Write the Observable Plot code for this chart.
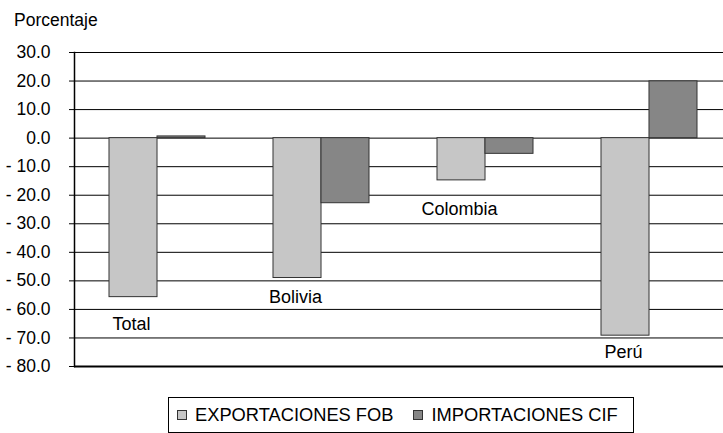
<!DOCTYPE html>
<html><head><meta charset="utf-8">
<script src="https://cdn.jsdelivr.net/npm/d3@7"></script>
<script src="https://cdn.jsdelivr.net/npm/@observablehq/plot@0.6"></script>
<style>
body{margin:0;background:#fff;font-family:"Liberation Sans",Arial,sans-serif;color:#000;}
#wrap{width:723px;height:433px;position:relative;overflow:hidden;background:#fff;}
#title{height:34px;font-size:17.5px;line-height:16px;padding-left:14px;padding-top:12px;box-sizing:border-box;}
#chart svg{display:block;}
#legend{position:absolute;left:168px;top:397px;width:466px;height:36px;border:1px solid #000;box-sizing:border-box;display:flex;align-items:center;font-size:18.3px;}
.item{display:flex;align-items:center;}
.sw{width:10px;height:10px;border:1px solid #333;box-sizing:border-box;margin-right:8px;}
</style></head>
<body>
<div id="wrap">
  <div id="title">Porcentaje</div>
  <div id="chart"></div>
  <div id="legend"></div>
</div>
<script>
const categories = ["Total", "Bolivia", "Colombia", "Perú"];
const exportaciones = [-55.7, -49.0, -14.8, -69.2];
const importaciones = [0.6, -22.8, -5.5, 19.9];
const seriesNames = ["EXPORTACIONES FOB", "IMPORTACIONES CIF"];
const seriesColors = ["#c6c6c6", "#868686"];
const yTicks = [30, 20, 10, 0, -10, -20, -30, -40, -50, -60, -70, -80];
const labelY = [-65.3, -55.8, -25.0, -75.1];

const rows = [];
categories.forEach((c, i) => {
  rows.push({cat: c, series: seriesNames[0], value: exportaciones[i]});
  rows.push({cat: c, series: seriesNames[1], value: importaciones[i]});
});

const xRange = [74, 732], pIn = 0.416, pOut = 0.21;
const half = d3.scaleBand().domain(categories).range(xRange).paddingInner(pIn).paddingOuter(pOut).bandwidth() / 2;
const fmt = v => v < 0 ? "- " + Math.abs(v).toFixed(1) : v.toFixed(1);

const chart = Plot.plot({
  width: 723,
  height: 351,
  marginTop: 18,
  marginBottom: 19,
  marginLeft: 74,
  marginRight: 0,
  style: {fontFamily: '"Liberation Sans", Arial, sans-serif', fontSize: "17.5px", color: "#000", background: "transparent", overflow: "visible"},
  x: {type: "band", domain: categories, range: xRange, paddingInner: pIn, paddingOuter: pOut, axis: null},
  y: {domain: [-80, 30], label: null},
  marks: [
    Plot.ruleY(yTicks.filter(t => t > -80), {stroke: "#000", strokeWidth: 1}),
    Plot.barY(rows.filter(d => d.series === seriesNames[0]), {x: "cat", y: "value", fill: seriesColors[0], stroke: "#333", strokeWidth: 1, insetRight: half}),
    Plot.barY(rows.filter(d => d.series === seriesNames[1]), {x: "cat", y: "value", fill: seriesColors[1], stroke: "#333", strokeWidth: 1, insetLeft: half}),
    Plot.ruleY([-80], {stroke: "#000", strokeWidth: 2}),
    Plot.frame({anchor: "left", stroke: "#000", strokeWidth: 1.5}),
    Plot.axisY({ticks: yTicks, tickFormat: fmt, tickSize: 5, tickPadding: 19, label: null, fontSize: 17.5, stroke: "#000"}),
    Plot.text(categories, {x: d => d, y: (d, i) => labelY[i], text: d => d, dx: -26, fontSize: 18, fill: "#000"})
  ]
});
document.getElementById("chart").appendChild(chart);

const legend = document.getElementById("legend");
seriesNames.forEach((s, i) => {
  const it = document.createElement("div");
  it.className = "item";
  it.style.marginLeft = i === 0 ? "8px" : "20px";
  const sw = document.createElement("div");
  sw.className = "sw";
  sw.style.background = seriesColors[i];
  const t = document.createElement("span");
  t.textContent = s;
  it.appendChild(sw); it.appendChild(t);
  legend.appendChild(it);
});
</script>
</body></html>
